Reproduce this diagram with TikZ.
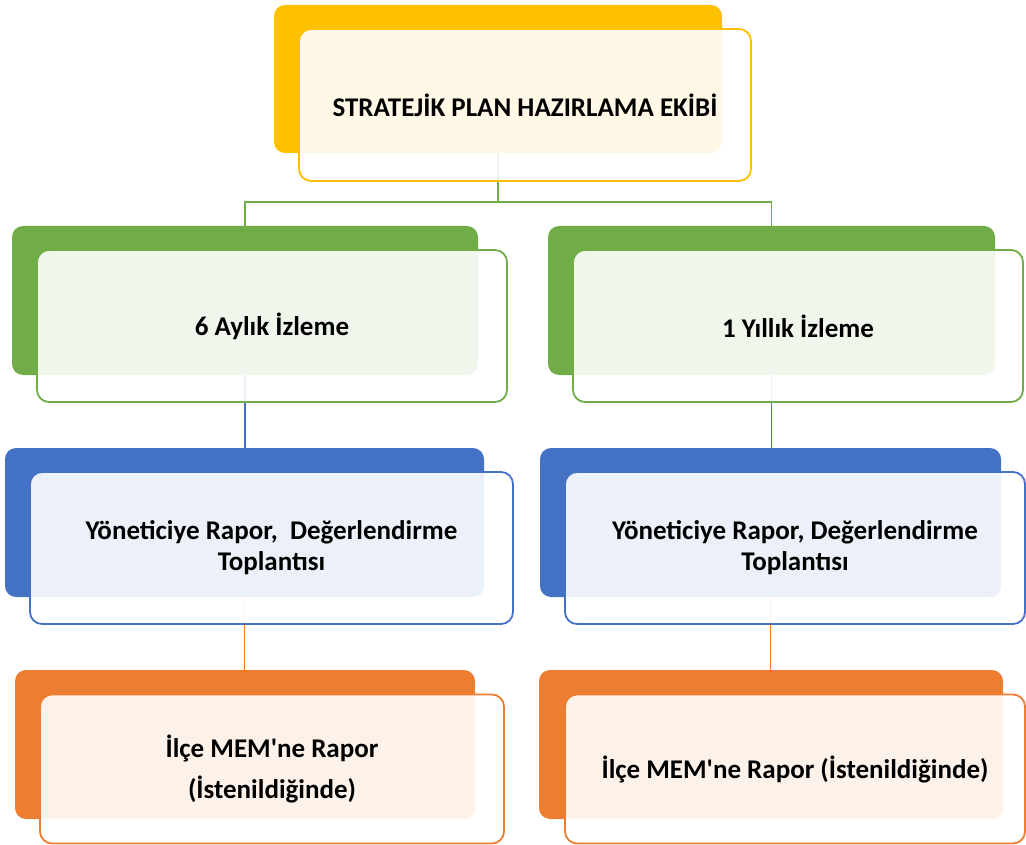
\documentclass[tikz,border=0pt]{standalone}
\usepackage{fontspec}
\setmainfont{Carlito}[Ligatures=TeXOff]
\definecolor{cyel}{HTML}{FFC000}
\definecolor{cgrn}{HTML}{70AD47}
\definecolor{cblu}{HTML}{4472C4}
\definecolor{corg}{HTML}{ED7D31}
\begin{document}
\begin{tikzpicture}[x=1pt,y=-1pt,
  backbox/.style={fill=#1, draw=none, rounded corners=11pt, inner sep=0pt},
  frontbox/.style={draw=#1, line width=1.8pt, fill=white, fill opacity=0.9, text opacity=1,
    rounded corners=12pt, inner sep=0pt, align=center,
    font=\fontsize{27}{31}\selectfont\bfseries},
  conn/.style={draw=#1, line width=1.8pt}]
\useasboundingbox (0,0) rectangle (1026,845);
% back boxes
\node[backbox=cyel, minimum width=448pt, minimum height=148pt] (topb) at (498,79) {};
\node[backbox=cgrn, minimum width=466pt, minimum height=149pt] (g1b) at (245,300.5) {};
\node[backbox=cgrn, minimum width=447pt, minimum height=149pt] (g2b) at (771.5,300.5) {};
\node[backbox=cblu, minimum width=479pt, minimum height=149pt] (b1b) at (244.5,522.5) {};
\node[backbox=cblu, minimum width=461pt, minimum height=149pt] (b2b) at (770.5,522.5) {};
\node[backbox=corg, minimum width=460pt, minimum height=149pt] (o1b) at (245,744.5) {};
\node[backbox=corg, minimum width=464pt, minimum height=149pt] (o2b) at (771,744.5) {};
% connectors
\coordinate (bus) at (500,202);
\draw[conn=cgrn] (topb.south) -- (topb.south |- bus) -| (g1b.north);
\draw[conn=cgrn] (topb.south |- bus) -| (g2b.north);
\draw[conn=cblu] (g1b.south) -- (g1b.south |- b1b.north);
\draw[conn=cblu] (g2b.south) -- (g2b.south |- b2b.north);
\draw[conn=corg] (b1b.south) -- (b1b.south |- o1b.north);
\draw[conn=corg] (b2b.south) -- (b2b.south |- o2b.north);
% front boxes
\node[frontbox=cyel, minimum width=452pt, minimum height=152pt] (top) at (525,105) {STRATEJİK PLAN HAZIRLAMA EKİBİ};
\node[frontbox=cgrn, minimum width=470pt, minimum height=152pt] (g1) at (272,326) {6 Aylık İzleme};
\node[frontbox=cgrn, minimum width=450pt, minimum height=152pt] (g2) at (798,326) {1 Yıllık İzleme};
\node[frontbox=cblu, minimum width=483pt, minimum height=152pt] (b1) at (271.5,548) {Yöneticiye Rapor,~ Değerlendirme\\Toplantısı};
\node[frontbox=cblu, minimum width=460pt, minimum height=152pt] (b2) at (795,548) {Yöneticiye Rapor, Değerlendirme\\Toplantısı};
\node[frontbox=corg, minimum width=464pt, minimum height=149pt] (o1) at (272,769) {İlçe MEM'ne Rapor\\[10pt](İstenildiğinde)};
\node[frontbox=corg, minimum width=460pt, minimum height=149pt] (o2) at (795,769) {İlçe MEM'ne Rapor (İstenildiğinde)};
\end{tikzpicture}
\end{document}
